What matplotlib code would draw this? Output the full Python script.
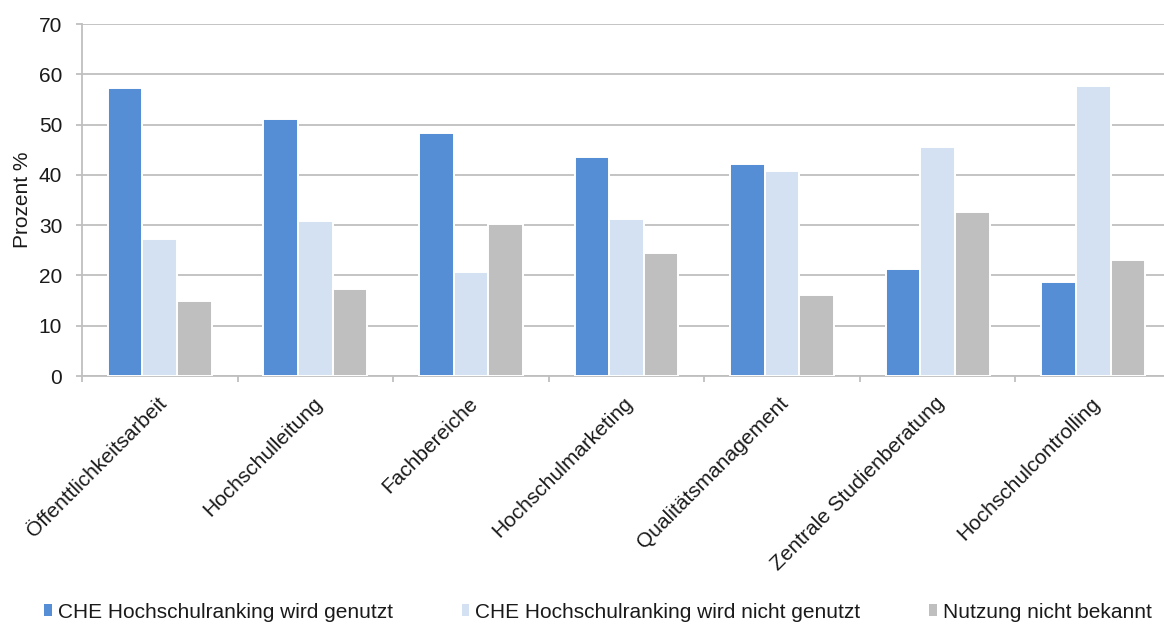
import matplotlib
matplotlib.use("Agg")
from matplotlib import pyplot as plt
from matplotlib.patches import Patch
import numpy as np

plt.rcParams['font.family'] = ['Liberation Sans', 'DejaVu Sans']

categories = ['Öffenttlichkeitsarbeit', 'Hochschulleitung', 'Fachbereiche',
              'Hochschulmarketing', 'Qualitätsmanagement',
              'Zentrale Studienberatung', 'Hochschulcontrolling']
genutzt = [57.3, 51.1, 48.4, 43.6, 42.2, 21.2, 18.6]
nicht_genutzt = [27.2, 30.9, 20.6, 31.3, 40.8, 45.5, 57.7]
unbekannt = [14.9, 17.3, 30.3, 24.4, 16.2, 32.6, 23.0]
series_names = ['CHE Hochschulranking wird genutzt',
                'CHE Hochschulranking wird nicht genutzt',
                'Nutzung nicht bekannt']
colors = ['#558ed5', '#d3e1f3', '#bfbfbf']

fig = plt.figure(figsize=(11.64, 6.24), dpi=100)
ax = fig.add_axes([82 / 1164, 1 - 376 / 624, 1089 / 1164, 352 / 624])

x = np.arange(len(categories))
w = 0.2227
for i, vals in enumerate([genutzt, nicht_genutzt, unbekannt]):
    ax.bar(x + (i - 1) * w, vals, width=w, color=colors[i],
           edgecolor='white', linewidth=1.4, zorder=3)

grid_c = '#bfbfbf'
txt_c = '#1a1a1a'
ax.set_xlim(-0.5, len(categories) - 0.5)
ax.set_ylim(0, 70)
ax.set_yticks(range(0, 71, 10))
ax.yaxis.grid(True, color=grid_c, linewidth=1.3, zorder=0)
ax.set_axisbelow(True)
for s in ['top', 'right']:
    ax.spines[s].set_visible(False)
for s in ['left', 'bottom']:
    ax.spines[s].set_color(grid_c)
    ax.spines[s].set_linewidth(1.3)

# ticks sit between the groups, labels are placed by hand
ax.set_xticks(np.arange(-0.5, len(categories)), labels=[])
ax.tick_params(axis='x', length=4, width=1.3, color=grid_c)
ax.tick_params(axis='y', length=4.3, width=1.3, color=grid_c,
               labelsize=15, labelcolor=txt_c, pad=10)

for xi, lab in zip(x, categories):
    ax.text(xi - 0.02, -0.05, lab, transform=ax.get_xaxis_transform(),
            rotation=45, rotation_mode='anchor', ha='right', va='top',
            fontsize=15, color=txt_c)

ax.set_ylabel('Prozent %', fontsize=15, color=txt_c)
ax.yaxis.set_label_coords(-0.046, 0.5)

handles = [Patch(facecolor=c, edgecolor='none') for c in colors]
fig.legend(handles, series_names, loc='center', ncol=3,
           bbox_to_anchor=(598 / 1164, 1 - 612 / 624), frameon=False,
           fontsize=15, handlelength=0.37, handleheight=0.45,
           handletextpad=0.3, columnspacing=3.3, borderpad=0,
           labelcolor=txt_c)

fig.savefig('out.png', dpi=100)
